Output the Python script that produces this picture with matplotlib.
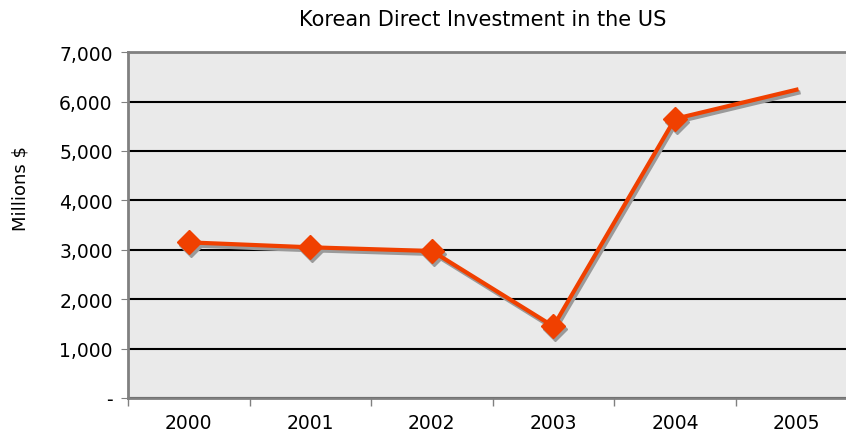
import matplotlib.pyplot as plt
import matplotlib.transforms as mtransforms
import numpy as np

years = ["2000", "2001", "2002", "2003", "2004", "2005"]
investment = [3150, 3050, 2975, 1450, 5650, 6240]
yticks = [0, 1000, 2000, 3000, 4000, 5000, 6000, 7000]
ylabels = ["-", "1,000", "2,000", "3,000", "4,000", "5,000", "6,000", "7,000"]

fig = plt.figure(figsize=(8.46, 4.35), dpi=100)
ax = fig.add_axes([0.1513, 0.0828, 0.862, 0.795])
ax.set_facecolor("#EAEAEA")

x = np.arange(len(years))
# drop shadow: same series, shifted a couple of pixels down/right
shift = mtransforms.ScaledTranslation(2 / 100, -3 / 100, fig.dpi_scale_trans)
ax.plot(x, investment, color="#9A9A9A", lw=3, marker="D", ms=12,
        markevery=[0, 1, 2, 3, 4], transform=ax.transData + shift,
        zorder=2, clip_on=False)
ax.plot(x, investment, color="#F04000", lw=3, marker="D", ms=12,
        markevery=[0, 1, 2, 3, 4], zorder=3, clip_on=False)

ax.set_xlim(-0.5, 5.5)
ax.set_ylim(0, 7000)
ax.set_yticks(yticks)
ax.set_yticklabels(ylabels, fontsize=13.5)
ax.set_xticks(x)
ax.set_xticklabels(years, fontsize=13.5)
ax.set_xticks(np.arange(-0.5, 6, 1), minor=True)
ax.tick_params(axis="x", which="major", length=0, pad=11)
ax.tick_params(axis="x", which="minor", length=6, color="#808080", width=1)
ax.tick_params(axis="y", length=5, color="#808080", pad=6)

ax.grid(axis="y", color="black", lw=1.5)
ax.set_axisbelow(True)
for s in ["left", "top", "bottom"]:
    ax.spines[s].set_color("#808080")
    ax.spines[s].set_linewidth(2)
ax.spines["right"].set_visible(False)

fig.text(0.024, 0.566, "Millions $", fontsize=13, rotation=90, ha="center", va="center")
fig.text(0.570, 0.954, "Korean Direct Investment in the US", fontsize=15, ha="center", va="center")

fig.savefig("out.png", dpi=100)
